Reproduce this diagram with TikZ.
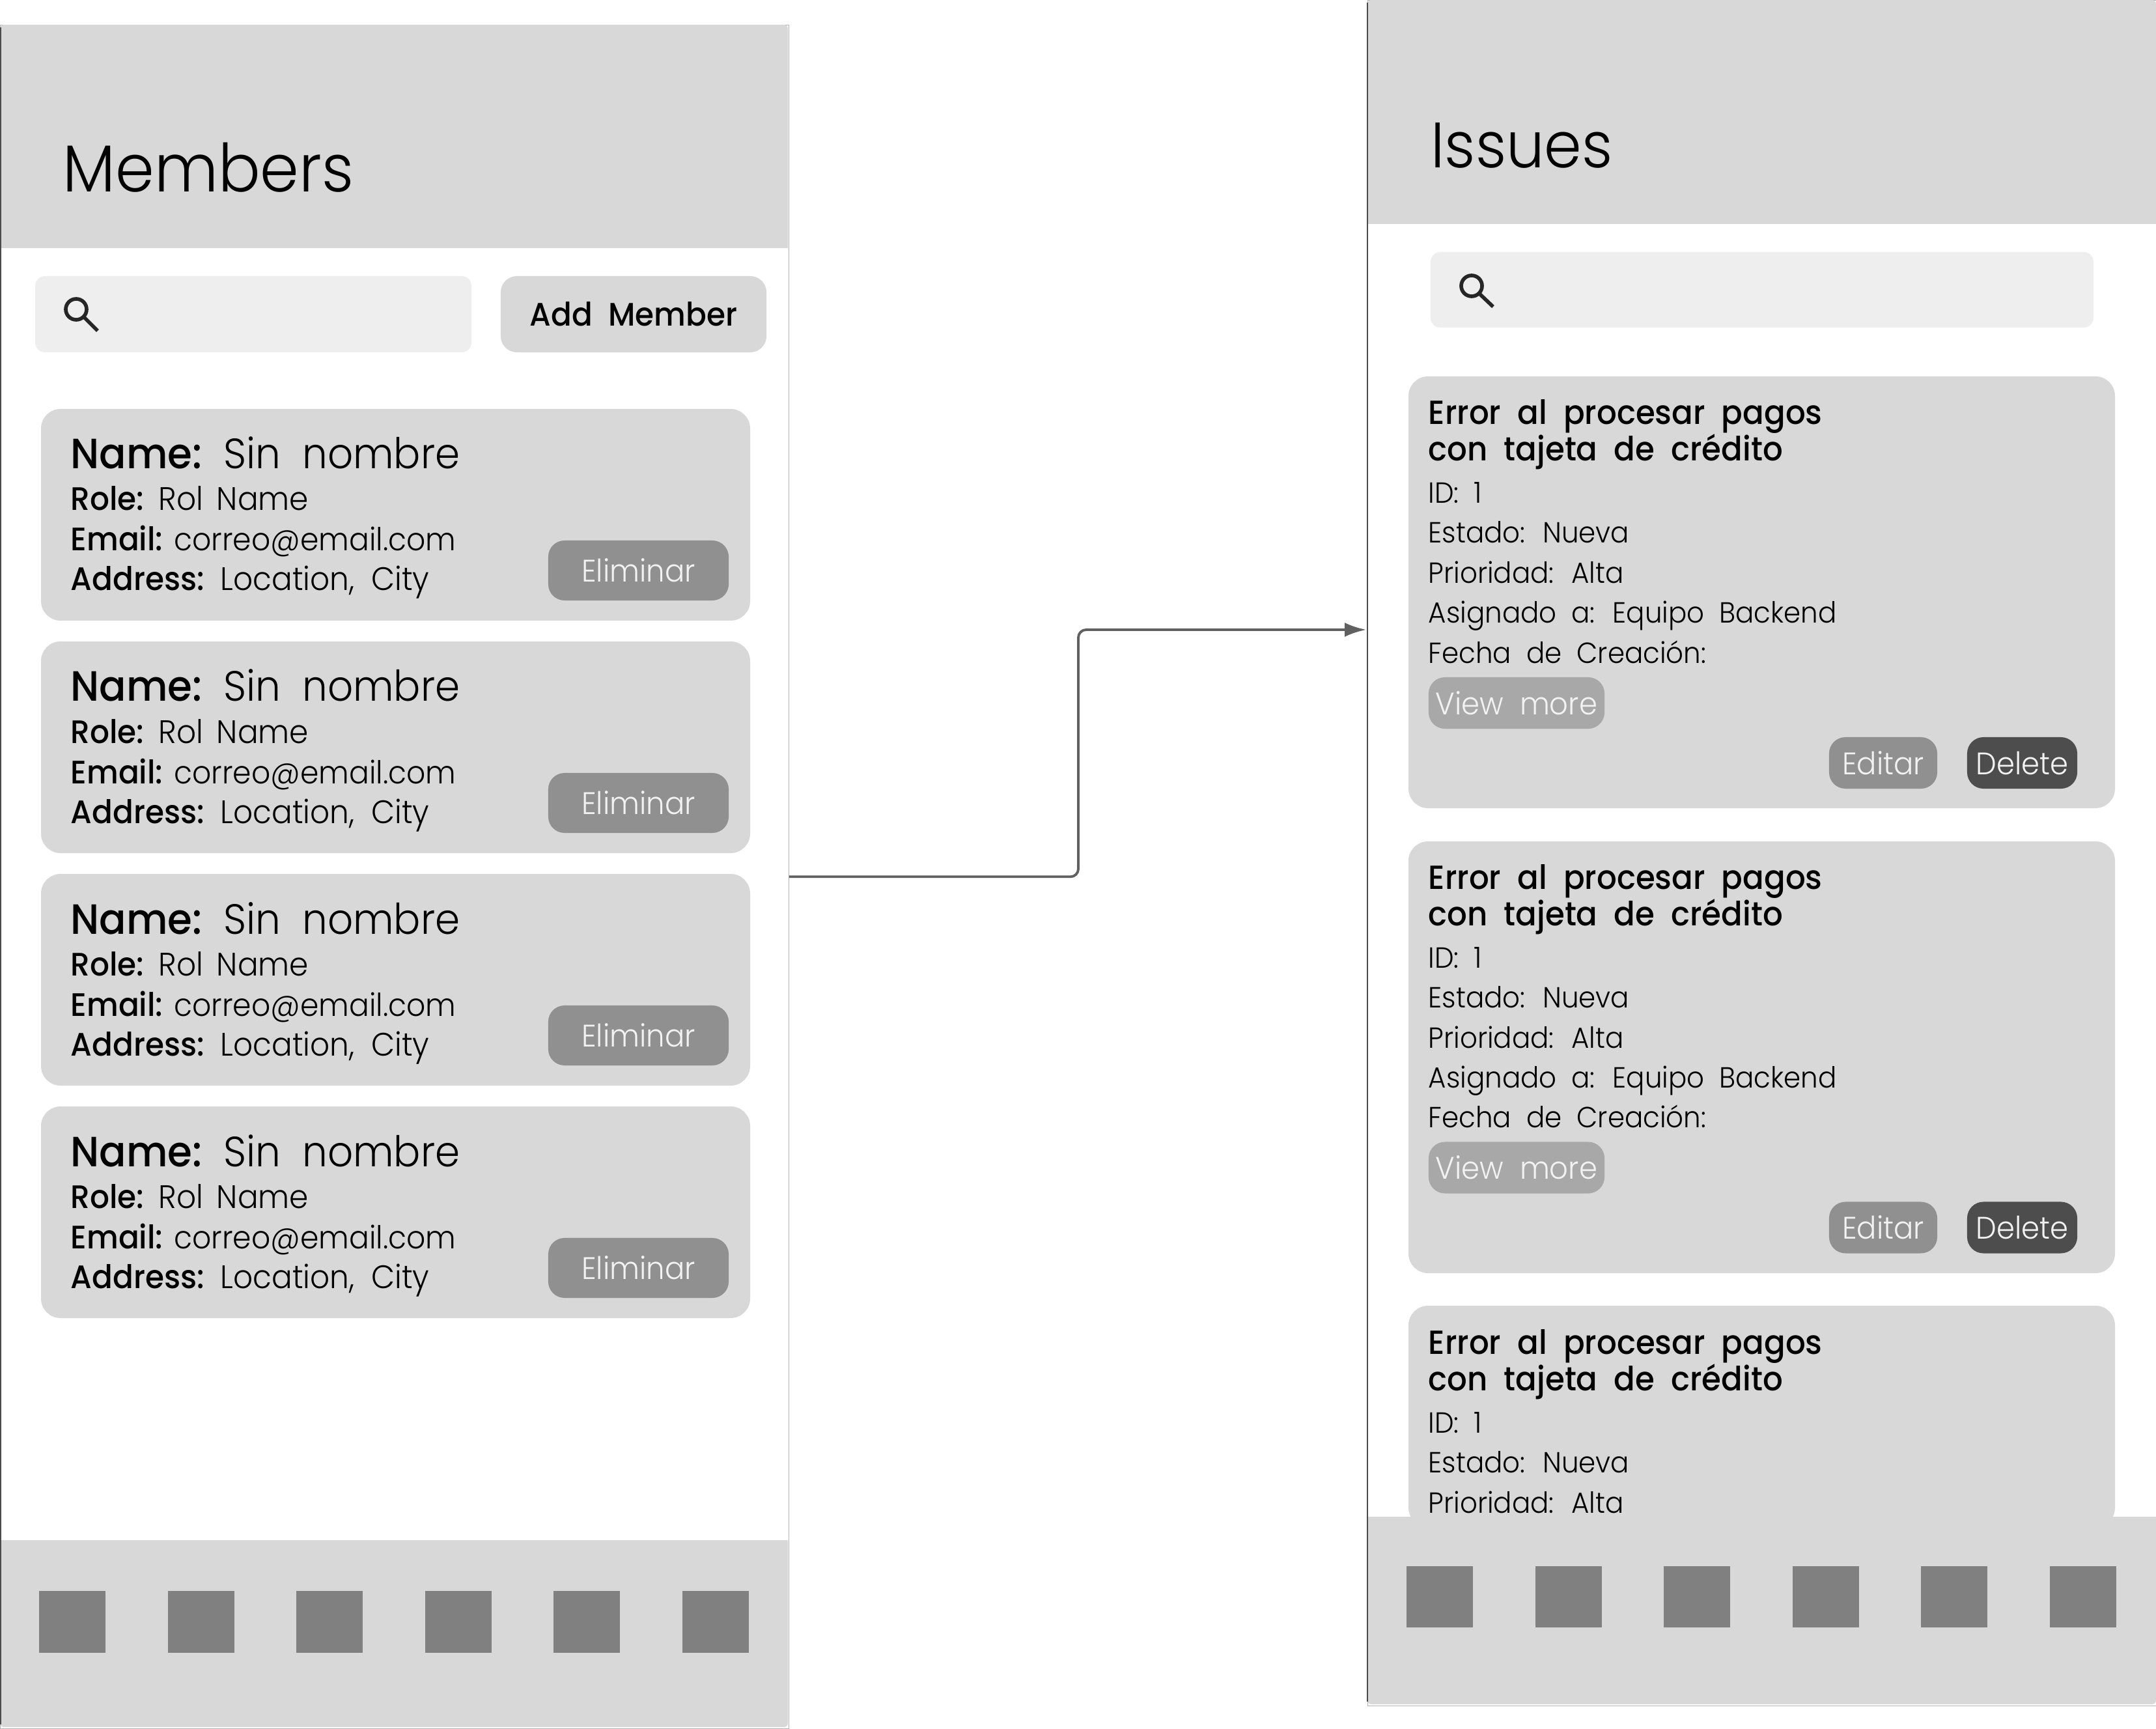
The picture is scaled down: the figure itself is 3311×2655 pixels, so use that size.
\documentclass[tikz,border=0pt]{standalone}
\usepackage{fontspec}
\setmainfont{Poppins Light}[BoldFont=Poppins Medium,WordSpace=2,FakeStretch=0.94]
\definecolor{panelgray}{HTML}{D8D8D8}
\definecolor{searchgray}{HTML}{EEEEEE}
\definecolor{squaregray}{HTML}{808080}
\definecolor{elimgray}{HTML}{909090}
\definecolor{viewgray}{HTML}{A8A8A8}
\definecolor{delgray}{HTML}{4D4D4D}
\definecolor{wiregray}{HTML}{606060}
\newcommand{\fsz}[1]{\fontsize{#1}{#1}\selectfont}
\newcommand{\lbl}[1]{\textbf{#1} \kern-0.1em}
\usetikzlibrary{arrows.meta}
\tikzset{
  phone/.style={anchor=north west, inner sep=0pt, draw=gray!60, line width=0.3pt, fill=white},
  panel/.style={fill=panelgray},
  card/.style={fill=panelgray, rounded corners=0.3cm},
  searchbox/.style={fill=searchgray, rounded corners=0.15cm},
  glass/.style={draw=black!85, line width=1.6pt},
  square/.style={fill=squaregray},
  txt/.style={anchor=base west, inner sep=0pt, text=black},
  btn/.style={rounded corners=0.25cm, inner sep=0pt, text=white!95!black, font=\fsz{13.6}},
  wire/.style={draw=wiregray, line width=1.1pt, rounded corners=0.12cm, -{Latex[length=0.33cm,width=0.22cm]}}
}
\begin{document}
\begin{tikzpicture}[x=0.01cm, y=-0.01cm]
  \useasboundingbox (0, 0) rectangle (3311, 2655);
  % members screen
  \node[phone, minimum width=12.1cm, minimum height=26.14cm] (membersphone) at (0, 38) {};
  \fill[panel] (0, 381) [rounded corners=0.06cm] -- (0, 38) -- (1210, 38) [sharp corners] -- (1210, 381) -- cycle;
  \node[txt, font=\fsz{29}] (memberstitle) at (96, 295) {Members};
  \fill[searchbox] (54, 424) rectangle (724, 541);
  \draw[glass] (117, 475) circle (0.16cm) (130, 488) -- (150, 508);
  \node[btn, fill=panelgray, text=black, minimum width=4.08cm, minimum height=1.17cm, font=\fsz{14.2}] (addmember) at (973, 482.5) {\textbf{Add Member}};
  \foreach \n/\y in {1/0, 2/357, 3/714, 4/1071} {
    \begin{scope}[shift={(0, \y)}]
      \fill[card] (63, 628) rectangle (1152, 953);
      \node[txt, font=\fsz{18.5}] (name\n) at (108, 720) {\lbl{Name:}Sin nombre};
      \node[txt, font=\fsz{14.2}] (role\n) at (108, 784) {\lbl{Role:}\kern-0.05em Rol\kern-0.1em{} Name};
      \node[txt, font=\fsz{14.2}] (email\n) at (108, 846) {\lbl{Email:}\kern-0.15em{\fsz{13.8}correo@email.com}};
      \node[txt, font=\fsz{14.2}] (address\n) at (108, 907) {\lbl{Address:}Location, City};
      \node[btn, fill=elimgray, minimum width=2.77cm, minimum height=0.92cm] (eliminar\n) at (980.5, 876) {Eliminar};
    \end{scope}
  }
  \fill[panel] (0, 2365) [rounded corners=0.06cm] -- (0, 2652) -- (1210, 2652) [sharp corners] -- (1210, 2365) -- cycle;
  \foreach \i in {0, ..., 5}
    \fill[square] ({60 + \i*197.6}, 2443) rectangle ++(102, 95);
  \draw[black!70, line width=0.5pt] (1, 42) -- (1, 2648);

  % issues screen
  \node[phone, minimum width=12.11cm, minimum height=26.17cm] (issuesphone) at (2100, 0) {};
  \foreach \n/\top/\bot in {1/578/1241, 2/1292/1955, 3/2005/2345}
    \fill[card] (2163, \top) rectangle (3248, \bot);
  \foreach \n/\y in {1/0, 2/713.5, 3/1427} {
    \begin{scope}[shift={(0, \y)}]
      \node[txt, font=\fsz{14.6}] (errora\n) at (2193, 652) {\textbf{Error al procesar pagos}};
      \node[txt, font=\fsz{14.6}] (errorb\n) at (2193, 708) {\textbf{con tajeta de crédito}};
      \node[txt, font=\fsz{12.7}] (id\n) at (2193, 773) {ID: 1};
      \node[txt, font=\fsz{12.7}] (estado\n) at (2193, 834) {Estado: Nueva};
      \node[txt, font=\fsz{12.7}] (prioridad\n) at (2193, 896) {Prioridad: Alta};
    \end{scope}
  }
  \foreach \n/\y in {1/0, 2/713.5} {
    \begin{scope}[shift={(0, \y)}]
      \node[txt, font=\fsz{12.7}] (asignado\n) at (2193, 957) {Asignado a: Equipo Backend};
      \node[txt, font=\fsz{12.7}] (fecha\n) at (2193, 1018) {Fecha de Creación:};
      \node[btn, fill=viewgray, minimum width=2.7cm, minimum height=0.79cm] (viewmore\n) at (2329, 1079.5) {View more};
      \node[btn, fill=elimgray, minimum width=1.66cm, minimum height=0.79cm] (editar\n) at (2892, 1171.5) {Editar};
      \node[btn, fill=delgray, minimum width=1.69cm, minimum height=0.79cm] (delete\n) at (3105.5, 1171.5) {Delete};
    \end{scope}
  }
  \fill[panel] (2100, 344) [rounded corners=0.06cm] -- (2100, 0) -- (3311, 0) [sharp corners] -- (3311, 344) -- cycle;
  \node[txt, font=\fsz{28}] (issuestitle) at (2197, 258) {Issues};
  \fill[searchbox] (2197, 387) rectangle (3215, 503);
  \draw[glass] (2260, 439) circle (0.16cm) (2273, 452) -- (2293, 471);
  \fill[panel] (2100, 2329) [rounded corners=0.06cm] -- (2100, 2617) -- (3311, 2617) [sharp corners] -- (3311, 2329) -- cycle;
  \foreach \i in {0, ..., 5}
    \fill[square] ({2160 + \i*197.6}, 2405) rectangle ++(102, 94);
  \draw[black!70, line width=0.5pt] (2100, 4) -- (2100, 2613);

  \coordinate (issuesentry) at (2098, 967);
  \coordinate (wirebend) at (1656, 967);
  \draw[wire] (membersphone.east) -| (wirebend) -- (issuesentry);
\end{tikzpicture}
\end{document}
